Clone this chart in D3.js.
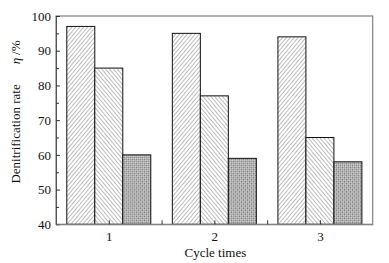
<!DOCTYPE html>
<html>
<head>
<meta charset="utf-8">
<script src="https://cdn.jsdelivr.net/npm/d3@7"></script>
<style>
  body { margin: 0; background: #fff; }
  text { font-family: "Liberation Serif", "Times New Roman", serif; fill: #111; }
</style>
</head>
<body>
<div id="chart"></div>
<script>
(function(){
  'use strict';

  // data
  var cycles = [1, 2, 3];
  var seriesNames = ['s1', 's2', 's3'];
  var s1 = [97, 95, 94];
  var s2 = [85, 77, 65];
  var s3 = [60, 59, 58];
  var yTicks = [40, 50, 60, 70, 80, 90, 100];

  var W = 389, H = 263,
      left = 56, right = 372.7, top = 16, bottom = 224.3;

  var svg = d3.select('#chart').append('svg')
    .attr('width', W)
    .attr('height', H);

  // hatch patterns
  var defs = svg.append('defs');
  function hatch(id, angle, gap) {
    var p = defs.append('pattern')
      .attr('id', id)
      .attr('patternUnits', 'userSpaceOnUse')
      .attr('width', gap).attr('height', gap)
      .attr('patternTransform', 'rotate(' + angle + ')');
    p.append('rect').attr('width', gap).attr('height', gap).attr('fill', '#fff');
    p.append('line')
      .attr('x1', 0).attr('y1', 0).attr('x2', 0).attr('y2', gap)
      .attr('stroke', '#6a6a6a').attr('stroke-width', 0.9);
  }
  hatch('pat-s1', 40, 3);
  hatch('pat-s2', -40, 3);
  var cross = defs.append('pattern')
    .attr('id', 'pat-s3')
    .attr('patternUnits', 'userSpaceOnUse')
    .attr('width', 2.8).attr('height', 2.8)
    .attr('patternTransform', 'rotate(45)');
  cross.append('rect').attr('width', 2.8).attr('height', 2.8).attr('fill', '#e4e4e4');
  cross.append('rect').attr('width', 1.4).attr('height', 1.4).attr('fill', '#7a7a7a');
  cross.append('rect').attr('x', 1.4).attr('y', 1.4).attr('width', 1.4).attr('height', 1.4).attr('fill', '#7a7a7a');

  var x = d3.scaleLinear().domain([0.5, 3.5]).range([left, right]);
  var inner = d3.scaleBand().domain(seriesNames).range([-42, 42]).padding(0);
  var y = d3.scaleLinear().domain([40, 100]).range([bottom, top]);

  var rows = [];
  cycles.forEach(function(c, i) {
    rows.push({c: c, s: 's1', v: s1[i]});
    rows.push({c: c, s: 's2', v: s2[i]});
    rows.push({c: c, s: 's3', v: s3[i]});
  });

  svg.selectAll('.bar')
    .data(rows)
    .enter()
    .append('rect')
    .attr('class', 'bar')
    .attr('x', function(d) { return x(d.c) + inner(d.s); })
    .attr('y', function(d) { return y(d.v); })
    .attr('width', inner.bandwidth())
    .attr('height', function(d) { return bottom - y(d.v); })
    .attr('fill', function(d) { return 'url(#pat-' + d.s + ')'; })
    .attr('stroke', '#111')
    .attr('stroke-width', 1);

  // frame
  svg.append('rect')
    .attr('x', left).attr('y', top)
    .attr('width', right - left).attr('height', bottom - top)
    .attr('fill', 'none')
    .attr('stroke', '#808080')
    .attr('stroke-width', 1.2);

  // left axis, ticks inward
  var yAxis = d3.axisLeft(y)
    .tickValues(yTicks)
    .tickSizeInner(-4)
    .tickSizeOuter(0)
    .tickPadding(5)
    .tickFormat(d3.format('d'));
  var gy = svg.append('g')
    .attr('transform', 'translate(' + left + ',0)')
    .call(yAxis);
  gy.select('.domain').attr('stroke', '#555');
  gy.selectAll('.tick line').attr('stroke', '#333');
  gy.selectAll('.tick text').style('font-size', '13px').attr('fill', '#111');

  var yMinor = d3.axisLeft(y)
    .tickValues([45, 55, 65, 75, 85, 95])
    .tickSizeInner(-3)
    .tickSizeOuter(0)
    .tickFormat('');
  var gym = svg.append('g')
    .attr('transform', 'translate(' + left + ',0)')
    .call(yMinor);
  gym.select('.domain').remove();
  gym.selectAll('.tick line').attr('stroke', '#333');

  // bottom axis, ticks inward
  var xAxis = d3.axisBottom(x)
    .tickValues(cycles)
    .tickSizeInner(-4)
    .tickSizeOuter(0)
    .tickPadding(7)
    .tickFormat(d3.format('d'));
  var gx = svg.append('g')
    .attr('transform', 'translate(0,' + bottom + ')')
    .call(xAxis);
  gx.select('.domain').attr('stroke', '#808080');
  gx.selectAll('.tick line').attr('stroke', '#333');
  gx.selectAll('.tick text').style('font-size', '13px').attr('fill', '#111');

  var xMinor = d3.axisBottom(x)
    .tickValues([1.5, 2.5])
    .tickSizeInner(-4)
    .tickSizeOuter(0)
    .tickFormat('');
  var gxm = svg.append('g')
    .attr('transform', 'translate(0,' + bottom + ')')
    .call(xMinor);
  gxm.select('.domain').remove();
  gxm.selectAll('.tick line').attr('stroke', '#333');

  // axis titles
  svg.append('text')
    .attr('x', (left + right) / 2 + 1)
    .attr('y', 257)
    .attr('text-anchor', 'middle')
    .style('font-size', '13px')
    .text('Cycle  times');

  var yl = svg.append('text')
    .attr('transform', 'translate(20,' + 112 + ') rotate(-90)')
    .attr('text-anchor', 'middle')
    .style('font-size', '13px');
  yl.append('tspan').text('Denitrification rate');
  yl.append('tspan').attr('dx', 20).style('font-style', 'italic').text('η');
  yl.append('tspan').attr('dx', 3).text('/%');

}());
</script>
</body>
</html>
